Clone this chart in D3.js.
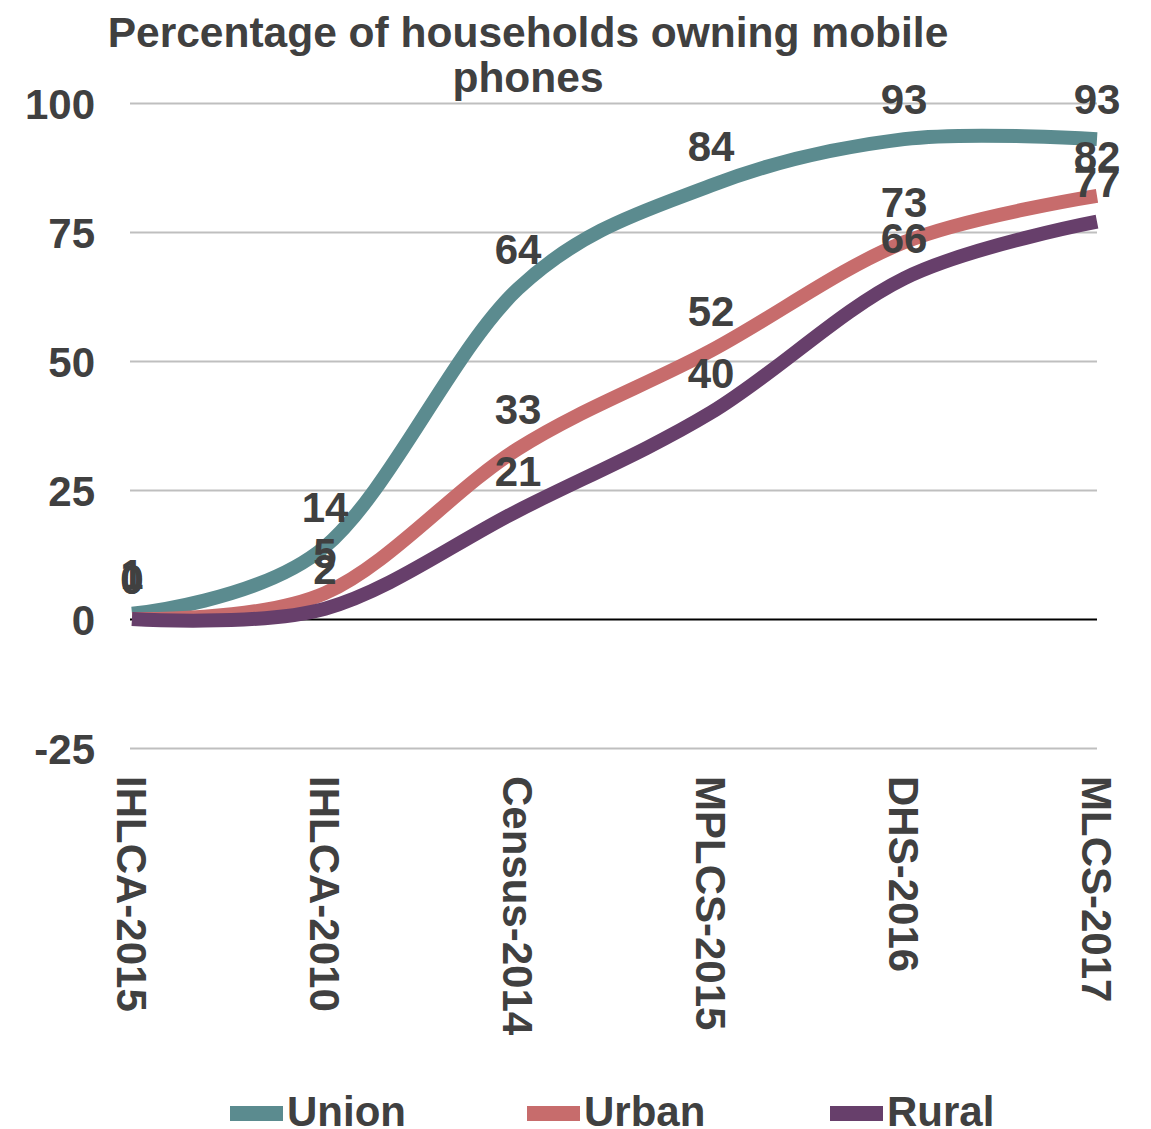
<!DOCTYPE html>
<html>
<head>
<meta charset="utf-8">
<script src="https://cdn.jsdelivr.net/npm/d3@7"></script>
<style>
  html, body { margin: 0; padding: 0; background: #fff; }
  svg { display: block; }
  text { font-family: "Liberation Sans", Arial, sans-serif; font-weight: bold; fill: #404040; }
</style>
</head>
<body>
<svg id="chart" width="1151" height="1129"></svg>
<script>
// Survey sources along the x axis
const categories = ["IHLCA-2015", "IHLCA-2010", "Census-2014", "MPLCS-2015", "DHS-2016", "MLCS-2017"];

// Percentage of households owning a mobile phone
const unionValues = [1, 14, 64, 84, 93, 93];
const urbanValues = [0, 5, 33, 52, 73, 82];
const ruralValues = [0, 2, 21, 40, 66, 77];

const yTicks = [-25, 0, 25, 50, 75, 100];

const seriesList = [
  { name: "Union", values: unionValues, color: "#5b8b8f" },
  { name: "Urban", values: urbanValues, color: "#c76c6c" },
  { name: "Rural", values: ruralValues, color: "#673f6b" }
];

const svg = d3.select("#chart");
const FONT = 42;

const x = d3.scalePoint().domain(categories).range([132, 1097]).padding(0);
const y = d3.scaleLinear().domain([-25, 100]).range([748, 103]);

// Horizontal gridlines
const yAxis = d3.axisLeft(y).tickValues(yTicks).tickSize(-(1097 - 130)).tickPadding(35).tickFormat(d => String(d));
const gy = svg.append("g").attr("transform", "translate(130,0)").call(yAxis);
gy.select(".domain").remove();
gy.selectAll(".tick line").attr("stroke", "#bfbfbf").attr("stroke-width", 2);
gy.selectAll(".tick text")
  .style("font-size", FONT + "px")
  .attr("fill", "#404040")
  .attr("dy", "0.36em");
gy.selectAll(".tick").filter(d => d === 0).select("line").attr("stroke", "#000").attr("stroke-width", 2);

// Category labels, rotated to read downward
const xAxis = d3.axisBottom(x).tickSize(0).tickPadding(0);
const gx = svg.append("g").attr("transform", "translate(0,776)").call(xAxis);
gx.select(".domain").remove();
gx.selectAll(".tick text")
  .style("font-size", FONT + "px")
  .attr("fill", "#404040")
  .attr("text-anchor", "start")
  .attr("transform", "rotate(90)")
  .attr("x", 0)
  .attr("y", 0)
  .attr("dy", "0.36em");

// Smoothed lines
const line = d3.line()
  .x((d, i) => x(categories[i]))
  .y(d => y(d))
  .curve(d3.curveCatmullRom.alpha(0));

svg.append("g").selectAll("path")
  .data(seriesList)
  .join("path")
  .attr("d", s => line(s.values))
  .attr("fill", "none")
  .attr("stroke", s => s.color)
  .attr("stroke-width", 14)
  .attr("stroke-linejoin", "round");

// Value labels above each point
const labels = svg.append("g");
seriesList.forEach(s => {
  labels.selectAll(null)
    .data(s.values)
    .join("text")
    .attr("x", (d, i) => x(categories[i]))
    .attr("y", d => y(d) - 25)
    .attr("text-anchor", "middle")
    .style("font-size", FONT + "px")
    .text(d => d);
});

// Title
const title = svg.append("text")
  .attr("text-anchor", "middle")
  .style("font-size", "42.5px");
title.append("tspan").attr("x", 528).attr("y", 47).text("Percentage of households owning mobile");
title.append("tspan").attr("x", 528).attr("y", 92).text("phones");

// Legend
const legendX = [230, 527, 830];
const legend = svg.append("g").selectAll("g")
  .data(seriesList)
  .join("g")
  .attr("transform", (d, i) => `translate(${legendX[i]},0)`);
legend.append("rect")
  .attr("x", 0).attr("y", 1106).attr("width", 53).attr("height", 15)
  .attr("fill", d => d.color);
legend.append("text")
  .attr("x", 57).attr("y", 1126)
  .style("font-size", FONT + "px")
  .text(d => d.name);
</script>
</body>
</html>
